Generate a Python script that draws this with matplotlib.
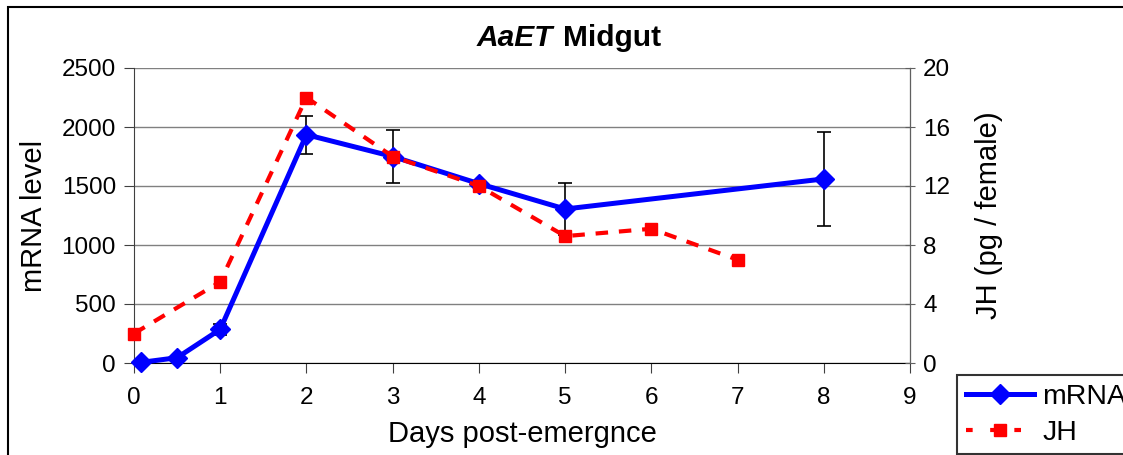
import matplotlib
matplotlib.use('Agg')
import matplotlib.pyplot as plt
from matplotlib.patches import Rectangle
from matplotlib.lines import Line2D

plt.rcParams['font.family'] = ['Liberation Sans', 'DejaVu Sans']

# data
days_mrna = [0.08, 0.5, 1, 2, 3, 4, 5, 8]
mrna = [5, 45, 285, 1935, 1750, 1520, 1305, 1560]
mrna_err = [0, 0, 45, 160, 228, 0, 220, 400]

days_jh = [0, 1, 2, 3, 4, 5, 6, 7]
jh = [2.0, 5.5, 18.0, 14.0, 12.0, 8.6, 9.1, 7.0]

xticks = list(range(0, 10))
yticks_left = [0, 500, 1000, 1500, 2000, 2500]
yticks_right = [0, 4, 8, 12, 16, 20]

W, H = 1123, 455
fig = plt.figure(figsize=(W / 100, H / 100), dpi=100)
ax = fig.add_axes([134 / W, 1 - 363 / H, (910 - 134) / W, (363 - 68) / H])
ax2 = ax.twinx()

# outer chart border (cropped at right/bottom)
top = 1 - 7 / H
fig.patches.append(Rectangle((8 / W, -0.2), 1.5, top + 0.2,
                             transform=fig.transFigure, fill=False,
                             edgecolor='black', lw=1.5))

ax.errorbar(days_mrna, mrna, yerr=mrna_err, fmt='none', ecolor='black',
            elinewidth=1.2, capsize=5, capthick=1.2, zorder=2)
ax.plot(days_mrna, mrna, color='#0000FF', lw=3.6, marker='D', markersize=10,
        zorder=3, clip_on=False)
ax2.plot(days_jh, jh, color='#FF0000', lw=3, ls=(0, (3, 2.6)), marker='s',
         markersize=9, clip_on=False)

ax.set_xlim(0, 9)
ax.set_ylim(0, 2500)
ax2.set_ylim(0, 20)
ax.set_xticks(xticks)
ax.set_yticks(yticks_left)
ax2.set_yticks(yticks_right)

ax.yaxis.grid(True, color='#808080', lw=1)
ax.set_axisbelow(True)

for a in (ax, ax2):
    a.spines['top'].set_visible(False)
ax.spines['left'].set_color('#404040')
ax.spines['bottom'].set_color('black')
ax2.spines['right'].set_color('#606060')
ax2.spines['left'].set_visible(False)
ax2.spines['bottom'].set_visible(False)

ax.tick_params(axis='y', labelsize=17.5, length=7, color='#404040', pad=6)
ax.tick_params(axis='x', labelsize=17.5, length=7, color='#404040', pad=10)
ax2.tick_params(axis='y', labelsize=17.5, length=7, direction='inout',
                color='#606060', pad=6)

ax.set_xlabel('Days post-emergnce', fontsize=21, labelpad=8)
ax.set_ylabel('mRNA level', fontsize=21, labelpad=10)
ax2.set_ylabel('JH (pg / female)', fontsize=21, labelpad=18)

fig.text(553 / W, 1 - 38 / H, 'AaET', fontsize=21.5, fontweight='bold',
         fontstyle='italic', ha='right', va='center')
fig.text(563 / W, 1 - 38 / H, 'Midgut', fontsize=21.5, fontweight='bold',
         ha='left', va='center')

handles = [Line2D([], [], color='#0000FF', lw=3.6, marker='D', markersize=10),
           Line2D([], [], color='#FF0000', lw=3, ls=(0, (1.6, 4.2)), marker='s',
                  markersize=9)]
leg = fig.legend(handles, ['mRNA', 'JH'], loc='upper left',
                 bbox_to_anchor=(957 / W, 1 - 375 / H), fontsize=20.5,
                 frameon=True, fancybox=False, edgecolor='black',
                 handlelength=2.4, borderaxespad=0, borderpad=0.3,
                 labelspacing=0.35, handletextpad=0.3)
leg.get_frame().set_linewidth(1.5)

fig.savefig('out.png', dpi=100)
